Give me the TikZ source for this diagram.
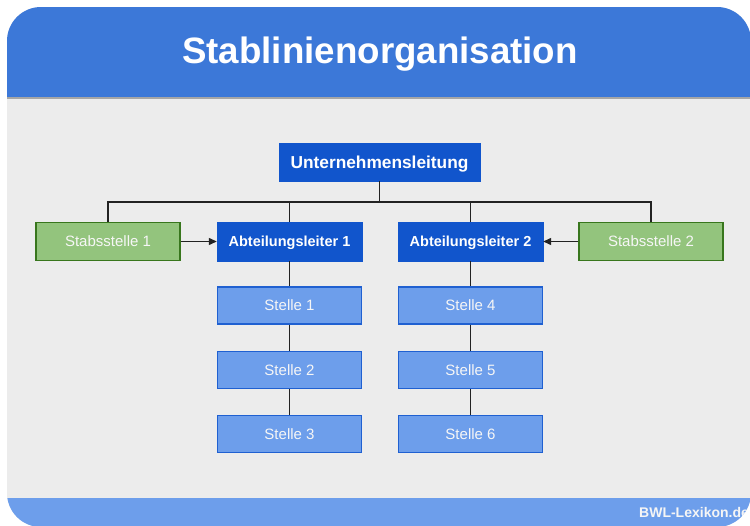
\documentclass[tikz,border=0pt]{standalone}
\usepackage{fontspec}
\setmainfont{Liberation Sans}
\usetikzlibrary{arrows.meta}
\definecolor{headblue}{HTML}{3C78D8}
\definecolor{lightblue}{HTML}{6D9EEB}
\definecolor{darkblue}{HTML}{1155CC}
\definecolor{panelgray}{HTML}{ECECEC}
\definecolor{stabgreen}{HTML}{93C47D}
\definecolor{stabborder}{HTML}{38761D}
\definecolor{linegray}{HTML}{222222}
\begin{document}
\begin{tikzpicture}[
        x=1pt, y=-1pt,
        leitung/.style={
            fill=darkblue,
            draw=darkblue,
            minimum width=145pt,
            minimum height=39pt,
            text depth=0pt,
            text=white,
            font=\fontsize{14.5}{16}\selectfont\bfseries
        },
        stabsbox/.style={
            fill=stabgreen,
            draw=stabborder,
            line width=1.2pt,
            minimum width=144pt,
            minimum height=38pt,
            text=white!93!gray,
            font=\fontsize{15}{17}\selectfont
        },
        stelle/.style={
            fill=lightblue,
            draw=darkblue!85!lightblue,
            line width=1.2pt,
            minimum width=144pt,
            minimum height=37pt,
            text=white!93!gray,
            font=\fontsize{15}{17}\selectfont
        },
        conn/.style={
            draw=linegray,
            line width=1.3pt
        },
        pfeil/.style={
            conn,
            -{Triangle[length=8pt,width=7pt]}
        }
    ]
        \useasboundingbox (0,0) rectangle (750,526);

        % Karte mit Kopf- und Fussleiste
        \begin{scope}
            \clip[rounded corners=34pt] (7,7) rectangle (751,527);
            \fill[panelgray] (7,7) rectangle (751,527);
            \fill[headblue] (7,7) rectangle (751,97);
            \fill[gray!70] (7,97) rectangle (751,99);
            \fill[lightblue] (7,498) rectangle (751,527);
            \fill[gray!15] (7,497) rectangle (751,498);
            \node[anchor=base west, text=white!92!gray,
                font=\fontsize{14}{16}\selectfont\bfseries,
                inner sep=0pt] (quelle) at (639,517) {BWL-Lexikon.de};
        \end{scope}

        % Titel
        \node[anchor=base, text=white, inner sep=0pt,
            font=\fontsize{36.7}{40}\selectfont\bfseries] (titel) at (380,64)
            {Stablinienorganisation};

        % Leitung
        \node[leitung, minimum width=201pt, minimum height=38pt,
            font=\fontsize{17.3}{19}\selectfont\bfseries] (ul) at (379.5,162)
            {Unternehmensleitung};

        % Stabsstellen und Abteilungsleiter
        \node[stabsbox] (st1) at (108,241.5) {Stabsstelle 1};
        \node[leitung] (al1) at (289.5,241.5) {Abteilungsleiter 1};
        \node[leitung] (al2) at (470.5,241.5) {Abteilungsleiter 2};
        \node[stabsbox] (st2) at (651,241.5) {Stabsstelle 2};

        % Stellen
        \node[stelle] (s1) at (289.5,305.5) {Stelle 1};
        \node[stelle] (s2) at (289.5,370) {Stelle 2};
        \node[stelle] (s3) at (289.5,434) {Stelle 3};
        \node[stelle] (s4) at (470.5,305.5) {Stelle 4};
        \node[stelle] (s5) at (470.5,370) {Stelle 5};
        \node[stelle] (s6) at (470.5,434) {Stelle 6};

        % Verbindungen
        \coordinate (bus) at (379.5,202);
        \draw[conn] (ul.south) -- (bus);
        \draw[conn] (st1.north) |- (bus) -| (st2.north);
        \draw[conn] (al1.north) -- (al1.north |- bus);
        \draw[conn] (al2.north) -- (al2.north |- bus);
        \draw[pfeil] (st1.east) -- (al1.west);
        \draw[pfeil] (st2.west) -- (al2.east);
        \draw[conn] (al1) -- (s1) -- (s2) -- (s3);
        \draw[conn] (al2) -- (s4) -- (s5) -- (s6);
    \end{tikzpicture}
\end{document}
